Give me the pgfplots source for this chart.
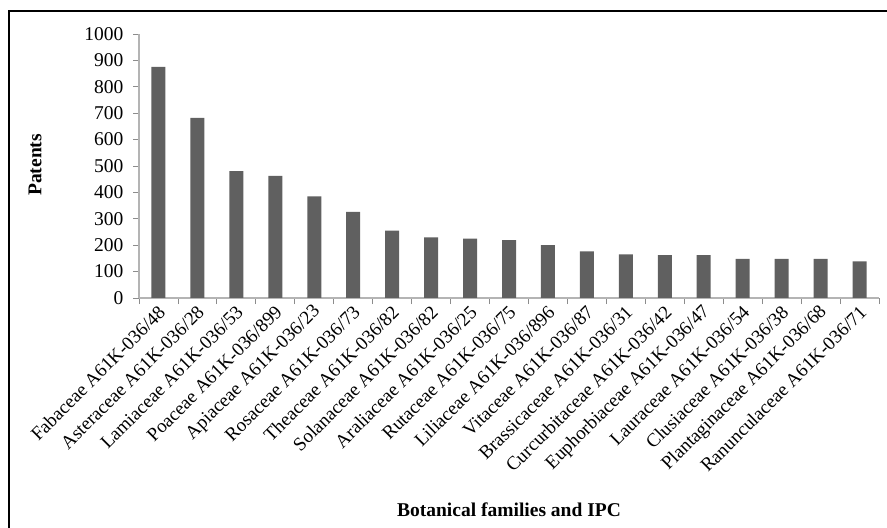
\documentclass[border=0pt]{standalone}
\usepackage{fontspec}
\setmainfont{Liberation Serif}
\usepackage{pgfplots}
\pgfplotsset{compat=1.18}
\definecolor{barc}{HTML}{606060}
\definecolor{axc}{HTML}{B4B4B4}
\definecolor{tickc}{HTML}{8C8C8C}
\begin{document}
\fontsize{19.5bp}{23bp}\selectfont
\begin{tikzpicture}
\useasboundingbox (0,0) rectangle (887bp,528bp);
\draw[line width=2.5bp] (9bp,-20bp) |- (900bp,517bp);
\begin{axis}[
  at={(139bp,230bp)}, anchor=south west,
  scale only axis, width=740bp, height=264bp,
  xmin=-0.5, xmax=18.5, ymin=0, ymax=1000,
  axis x line=bottom, axis y line=left,
  axis line style={-, draw=axc, line width=1.2bp},
  ytick={0,100,...,1000},
  xtick={0,...,18},
  minor xtick={-0.5,0.5,...,18.5},
  tick align=outside,
  major tick length=6bp, minor tick length=6bp,
  major x tick style={draw=none},
  tick style={draw=tickc, line width=0.8bp},
  /pgf/number format/assume math mode=true,
  /pgf/number format/1000 sep={},
  ticklabel style={font=\fontsize{19.5bp}{23bp}\selectfont},
  yticklabel style={xshift=-3bp},
  xticklabels={Fabaceae A61K-036/48, Asteraceae A61K-036/28, Lamiaceae A61K-036/53, Poaceae A61K-036/899, Apiaceae A61K-036/23, Rosaceae A61K-036/73, Theaceae A61K-036/82, Solanaceae A61K-036/82, Araliaceae A61K-036/25, Rutaceae A61K-036/75, Liliaceae A61K-036/896, Vitaceae A61K-036/87, Brassicaceae A61K-036/31, Curcurbitaceae A61K-036/42, Euphorbiaceae A61K-036/47, Lauraceae A61K-036/54, Clusiaceae A61K-036/38, Plantaginaceae A61K-036/68, Ranunculaceae A61K-036/71},
  xticklabel style={rotate=45, anchor=east, inner sep=2bp, yshift=-6bp, xshift=1bp, font=\fontsize{19bp}{23bp}\selectfont},
  xlabel={Botanical families and IPC},
  ylabel={Patents},
  every axis x label/.style={at={(rel axis cs:0.5,-0.803)}, anchor=center, font=\bfseries\fontsize{19.5bp}{23bp}\selectfont},
  every axis y label/.style={at={(rel axis cs:-0.1405,0.504)}, rotate=90, anchor=center, font=\bfseries\fontsize{19.5bp}{23bp}\selectfont},
  ybar, bar width=14bp,
]
\addplot[fill=barc, draw=none] coordinates {
(0,875) (1,682) (2,481) (3,463) (4,385) (5,326) (6,255) (7,230) (8,225) (9,219)
(10,200) (11,177) (12,165) (13,162) (14,162) (15,148) (16,148) (17,148) (18,139)
};
\end{axis}
\end{tikzpicture}
\end{document}
